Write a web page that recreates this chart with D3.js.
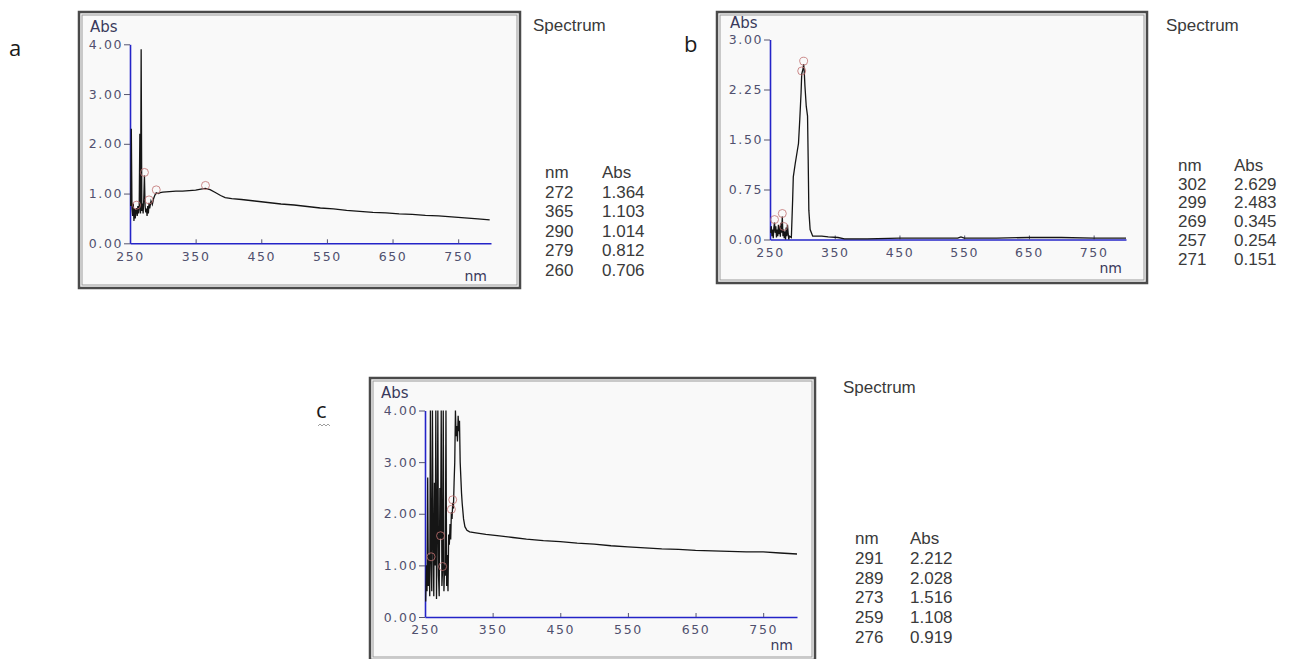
<!DOCTYPE html>
<meta charset="utf-8">
<style>
  body { margin: 0; background: #fff; }
  text { font-family: "Liberation Sans", Arial, sans-serif; }
</style>
<script src="https://d3js.org/d3.v7.min.js"></script>
<body>
<div id="chart"></div>
<script>

// spectra as [nm, Abs]
var specA = [[251,0.75],[252,2.3],[253,0.7],[254,0.55],[255,0.8],[256,0.45],[257,0.7],[258,0.5],[259,0.65],
  [260,0.706],[261,0.55],[262,0.75],[263,0.6],[264,0.7],[265,2.2],[266,0.6],[267,3.9],[268,0.65],[269,0.8],
  [270,0.6],[271,0.9],[272,1.364],[273,0.75],[274,0.62],[275,0.7],[276,0.55],[277,0.75],[278,0.6],[279,0.812],
  [280,0.7],[282,0.85],[284,0.78],[286,0.9],[288,0.97],[290,1.014],[293,1.0],[296,1.02],[300,1.03],[310,1.04],
  [320,1.05],[330,1.05],[340,1.06],[350,1.07],[358,1.09],[365,1.103],[372,1.08],[380,1.02],[388,0.96],[395,0.92],
  [405,0.9],[420,0.88],[440,0.85],[460,0.82],[480,0.79],[500,0.77],[520,0.74],[540,0.71],[560,0.69],[580,0.66],
  [600,0.64],[620,0.62],[640,0.61],[660,0.59],[680,0.58],[700,0.56],[720,0.55],[740,0.53],[760,0.51],[780,0.49],[798,0.47]];

var specB = [[251,0.1],[252,0.2],[253,0.05],[254,0.15],[255,0.02],[256,0.18],[257,0.254],[258,0.1],[259,0.2],
  [260,0.03],[261,0.15],[262,0.05],[263,0.22],[264,0.08],[265,0.2],[266,0.04],[267,0.25],[268,0.1],[269,0.345],
  [270,0.05],[271,0.151],[272,0.02],[273,0.12],[274,0.0],[275,0.18],[276,0.05],[277,0.22],[278,0.1],[279,0.0],
  [280,0.05],[283,0.03],[285,0.6],[286,0.94],[289,1.14],[292,1.32],[294,1.44],[296,1.8],[298,2.2],[299,2.483],
  [301,2.56],[302,2.629],[303,2.5],[304,2.3],[306,2.0],[308,1.85],[309,1.2],[310,0.44],[312,0.15],[316,0.05],
  [330,0.05],[340,0.04],[355,0.03],[365,0.01],[400,0.01],[450,0.02],[500,0.02],[540,0.02],[545,0.04],[550,0.02],
  [600,0.02],[650,0.03],[700,0.03],[750,0.02],[800,0.02]];

var specC = [[251,0.3],[252,1.0],[253,0.5],[254,2.7],[255,0.6],[256,1.2],[257,0.4],[258,4.0],[259,1.108],
  [260,0.5],[261,4.0],[262,1.5],[263,0.4],[264,2.6],[265,1.0],[266,4.0],[267,0.35],[268,1.6],[269,4.0],
  [270,0.8],[271,0.4],[272,2.5],[273,1.516],[274,4.0],[275,0.6],[276,0.919],[277,4.0],[278,0.5],[279,1.0],
  [280,0.8],[281,4.0],[282,0.6],[283,1.2],[284,0.5],[285,1.6],[286,1.4],[287,1.8],[288,1.5],[289,2.028],
  [290,1.9],[291,2.212],[292,2.1],[293,2.6],[294,3.0],[295,4.0],[296,3.5],[297,3.7],[298,3.4],[299,3.9],
  [300,3.6],[301,3.8],[302,3.0],[303,2.7],[304,2.4],[305,2.2],[307,1.9],[309,1.75],[312,1.68],[316,1.65],
  [325,1.63],[340,1.6],[360,1.57],[380,1.54],[400,1.51],[425,1.48],[450,1.46],[475,1.43],[500,1.41],
  [525,1.38],[550,1.36],[575,1.34],[600,1.32],[625,1.31],[650,1.29],[675,1.28],[700,1.27],[725,1.26],
  [750,1.26],[775,1.24],[800,1.22]];

// peak tables
var peakNmA = ["272","365","290","279","260"];
var peakAbsA = ["1.364","1.103","1.014","0.812","0.706"];
var peakNmB = ["302","299","269","257","271"];
var peakAbsB = ["2.629","2.483","0.345","0.254","0.151"];
var peakNmC = ["291","289","273","259","276"];
var peakAbsC = ["2.212","2.028","1.516","1.108","0.919"];

var xTicks = [250, 350, 450, 550, 650, 750];
var yTicks4 = [0, 1, 2, 3, 4];
var yTicks3 = [0, 0.75, 1.5, 2.25, 3];

var width = 1303, height = 659;
var svg = d3.select("#chart").append("svg")
    .attr("width", width)
    .attr("height", height);

function panel(p) {
  var g = svg.append("g");

  // frame
  g.append("rect").attr("x", p.frame[0]).attr("y", p.frame[1])
    .attr("width", p.frame[2] - p.frame[0]).attr("height", p.frame[3] - p.frame[1])
    .attr("fill", "#f9f9f9").attr("stroke", "#4a4a4a").attr("stroke-width", 2.5);
  g.append("rect").attr("x", p.frame[0] + 3).attr("y", p.frame[1] + 3)
    .attr("width", p.frame[2] - p.frame[0] - 6).attr("height", p.frame[3] - p.frame[1] - 6)
    .attr("fill", "none").attr("stroke", "#9a9a9a").attr("stroke-width", 1);

  var x = d3.scaleLinear().domain([250, 800]).range(p.xr);
  var y = d3.scaleLinear().domain(p.yd).range(p.yr);

  // axes
  var xa = g.append("g").attr("transform", "translate(0," + p.yr[0] + ")")
    .call(d3.axisBottom(x).tickValues(xTicks).tickSize(-4).tickSizeOuter(0).tickPadding(6));
  var ya = g.append("g").attr("transform", "translate(" + p.xr[0] + ",0)")
    .call(d3.axisLeft(y).tickValues(p.yTicks).tickSize(6).tickSizeOuter(0).tickPadding(1)
      .tickFormat(d3.format(".2f")));
  [xa, ya].forEach(function(a) {
    a.select(".domain").attr("stroke", "#2424c8").attr("stroke-width", 1.6);
    a.selectAll(".tick line").attr("stroke", "#555570");
    a.selectAll(".tick text").attr("fill", "#50506e")
      .style("font-family", "DejaVu Sans").style("font-size", "12.5px").style("letter-spacing", "1.6px");
  });
  xa.selectAll(".tick text").attr("dy", "0.9em");

  g.append("text").attr("x", p.absPos[0]).attr("y", p.absPos[1])
    .attr("fill", "#3a3a5c").style("font-family", "DejaVu Sans").style("font-size", "15px").text("Abs");
  g.append("text").attr("x", p.xr[1] - 4).attr("y", p.yr[0] + p.nmOff)
    .attr("text-anchor", "end").attr("fill", "#3a3a5c")
    .style("font-family", "DejaVu Sans").style("font-size", "14px").text("nm");

  // spectrum
  var line = d3.line().x(function(d) { return x(d[0]); }).y(function(d) { return y(d[1]); });
  g.append("path").datum(p.data).attr("d", line)
    .attr("fill", "none").attr("stroke", "#151515").attr("stroke-width", 1.3);

  // picked peaks
  g.selectAll(".pk").data(p.nm).enter().append("circle")
    .attr("cx", function(d) { return x(+d); })
    .attr("cy", function(d, i) { return y(+p.abs[i]) - 3; })
    .attr("r", 4).attr("fill", "none")
    .attr("stroke", "#c07070").attr("stroke-opacity", 0.8).attr("stroke-width", 1);

  // side table
  var t = p.table;
  g.append("text").attr("x", t.x0 - 12).attr("y", t.specY)
    .attr("fill", "#3a3a3a").style("font-size", "17px").text("Spectrum");
  g.append("text").attr("x", t.x0).attr("y", t.y0).attr("fill", "#3a3a3a")
    .style("font-size", "17px").text("nm");
  g.append("text").attr("x", t.x1).attr("y", t.y0).attr("fill", "#3a3a3a")
    .style("font-size", "17px").text("Abs");
  p.nm.forEach(function(v, i) {
    g.append("text").attr("x", t.x0).attr("y", t.y0 + (i + 1) * t.dy)
      .attr("fill", "#3a3a3a").style("font-size", "17px").text(v);
    g.append("text").attr("x", t.x1).attr("y", t.y0 + (i + 1) * t.dy)
      .attr("fill", "#3a3a3a").style("font-size", "17px").text(p.abs[i]);
  });

  svg.append("text").attr("x", p.letter[0]).attr("y", p.letter[1])
    .attr("fill", "#1a1a1a").style("font-family", "Open Sans").style("font-size", "22px").text(p.letter[2]);
}

panel({ frame: [79, 12, 520, 288], xr: [130, 491], yd: [0, 4], yr: [243.3, 44.3], yTicks: yTicks4,
  absPos: [90, 32], nmOff: 38, data: specA, nm: peakNmA, abs: peakAbsA, letter: [9, 56, "a"],
  table: { x0: 545, x1: 602, y0: 178, dy: 19.5, specY: 31 } });

panel({ frame: [717, 12, 1147, 283], xr: [770, 1126], yd: [0, 3], yr: [239.5, 39.5], yTicks: yTicks3,
  absPos: [730, 28], nmOff: 33, data: specB, nm: peakNmB, abs: peakAbsB, letter: [684, 52, "b"],
  table: { x0: 1178, x1: 1234, y0: 171, dy: 18.7, specY: 31 } });

panel({ frame: [370, 378, 815, 660], xr: [425, 797], yd: [0, 4], yr: [617, 410.5], yTicks: yTicks4,
  absPos: [381, 398], nmOff: 33, data: specC, nm: peakNmC, abs: peakAbsC, letter: [316, 418, "c"],
  table: { x0: 855, x1: 910, y0: 544, dy: 19.8, specY: 393 } });

// spell-check squiggle under "c"
svg.append("path").attr("d", "M318,426 l2,-2 l2,2 l2,-2 l2,2 l2,-2 l2,2")
  .attr("fill", "none").attr("stroke", "#888").attr("stroke-width", 0.8);

</script>
</body>
